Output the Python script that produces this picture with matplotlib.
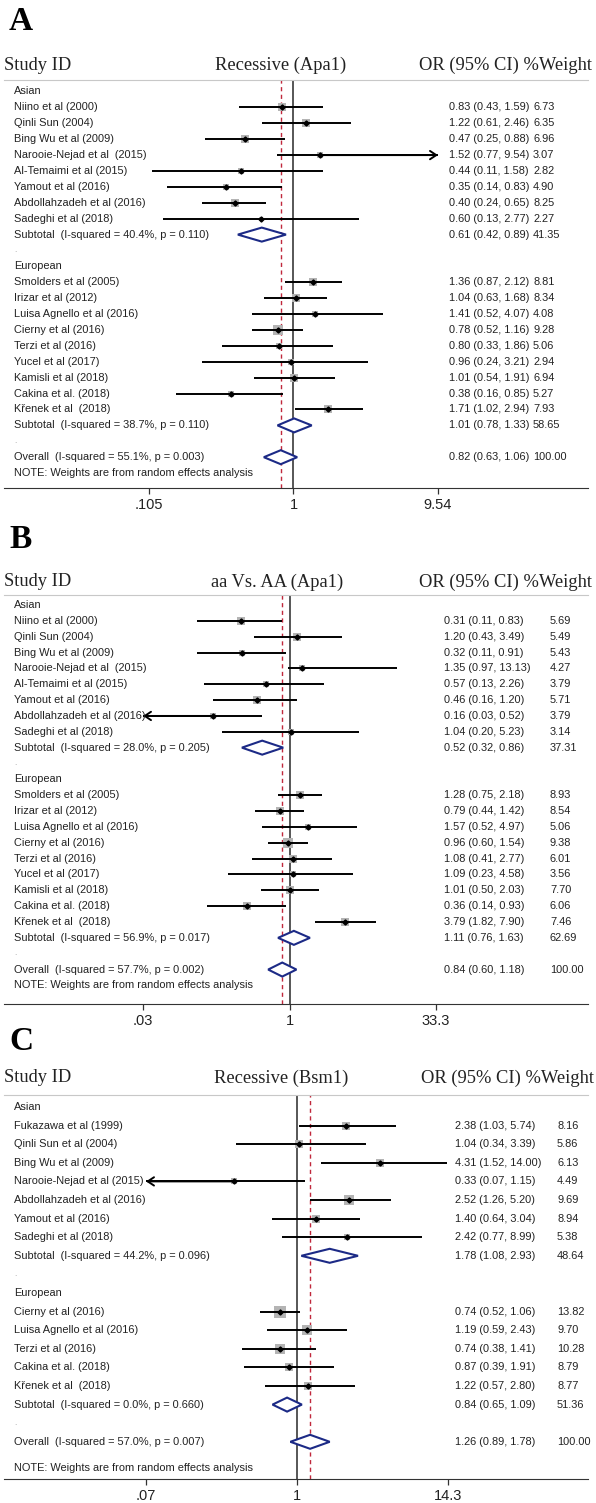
import numpy as np
import matplotlib.pyplot as plt
from matplotlib import transforms
from matplotlib.patches import Polygon
from matplotlib.ticker import NullLocator

plt.rcParams['font.family'] = ['Liberation Sans', 'DejaVu Sans']

# ---------------- Panel A : Recessive (Apa1) ----------------
A_TITLE = "Recessive (Apa1)"
A_STUDY = ["Niino et al (2000)", "Qinli Sun (2004)", "Bing Wu et al (2009)",
           "Narooie-Nejad et al  (2015)", "Al-Temaimi et al (2015)", "Yamout et al (2016)",
           "Abdollahzadeh et al (2016)", "Sadeghi et al (2018)",
           "Smolders et al (2005)", "Irizar et al (2012)", "Luisa Agnello et al (2016)",
           "Cierny et al (2016)", "Terzi et al (2016)", "Yucel et al (2017)",
           "Kamisli et al (2018)", "Cakina et al. (2018)", "Křenek et al  (2018)"]
A_REGION = ["Asian"] * 8 + ["European"] * 9
A_OR = [0.83, 1.22, 0.47, 1.52, 0.44, 0.35, 0.40, 0.60,
        1.36, 1.04, 1.41, 0.78, 0.80, 0.96, 1.01, 0.38, 1.71]
A_LO = [0.43, 0.61, 0.25, 0.77, 0.11, 0.14, 0.24, 0.13,
        0.87, 0.63, 0.52, 0.52, 0.33, 0.24, 0.54, 0.16, 1.02]
A_HI = [1.59, 2.46, 0.88, 9.54, 1.58, 0.83, 0.65, 2.77,
        2.12, 1.68, 4.07, 1.16, 1.86, 3.21, 1.91, 0.85, 2.94]
A_WT = [6.73, 6.35, 6.96, 3.07, 2.82, 4.90, 8.25, 2.27,
        8.81, 8.34, 4.08, 9.28, 5.06, 2.94, 6.94, 5.27, 7.93]
A_SUB_HET = ["I-squared = 40.4%, p = 0.110", "I-squared = 38.7%, p = 0.110"]
A_SUB_OR = [0.61, 1.01]
A_SUB_LO = [0.42, 0.78]
A_SUB_HI = [0.89, 1.33]
A_SUB_WT = [41.35, 58.65]
A_ALL_HET = "I-squared = 55.1%, p = 0.003"
A_ALL = [0.82, 0.63, 1.06]
A_TICKS = [0.105, 1, 9.54]
A_TICKLABELS = [".105", "1", "9.54"]

# ---------------- Panel B : aa Vs. AA (Apa1) ----------------
B_TITLE = "aa Vs. AA (Apa1)"
B_STUDY = A_STUDY
B_REGION = A_REGION
B_OR = [0.31, 1.20, 0.32, 1.35, 0.57, 0.46, 0.16, 1.04,
        1.28, 0.79, 1.57, 0.96, 1.08, 1.09, 1.01, 0.36, 3.79]
B_LO = [0.11, 0.43, 0.11, 0.97, 0.13, 0.16, 0.03, 0.20,
        0.75, 0.44, 0.52, 0.60, 0.41, 0.23, 0.50, 0.14, 1.82]
B_HI = [0.83, 3.49, 0.91, 13.13, 2.26, 1.20, 0.52, 5.23,
        2.18, 1.42, 4.97, 1.54, 2.77, 4.58, 2.03, 0.93, 7.90]
B_WT = [5.69, 5.49, 5.43, 4.27, 3.79, 5.71, 3.79, 3.14,
        8.93, 8.54, 5.06, 9.38, 6.01, 3.56, 7.70, 6.06, 7.46]
B_SUB_HET = ["I-squared = 28.0%, p = 0.205", "I-squared = 56.9%, p = 0.017"]
B_SUB_OR = [0.52, 1.11]
B_SUB_LO = [0.32, 0.76]
B_SUB_HI = [0.86, 1.63]
B_SUB_WT = [37.31, 62.69]
B_ALL_HET = "I-squared = 57.7%, p = 0.002"
B_ALL = [0.84, 0.60, 1.18]
B_TICKS = [0.03, 1, 33.3]
B_TICKLABELS = [".03", "1", "33.3"]

# ---------------- Panel C : Recessive (Bsm1) ----------------
C_TITLE = "Recessive (Bsm1)"
C_STUDY = ["Fukazawa et al (1999)", "Qinli Sun et al (2004)", "Bing Wu et al (2009)",
           "Narooie-Nejad et al (2015)", "Abdollahzadeh et al (2016)", "Yamout et al (2016)",
           "Sadeghi et al (2018)",
           "Cierny et al (2016)", "Luisa Agnello et al (2016)", "Terzi et al (2016)",
           "Cakina et al. (2018)", "Křenek et al  (2018)"]
C_REGION = ["Asian"] * 7 + ["European"] * 5
C_OR = [2.38, 1.04, 4.31, 0.33, 2.52, 1.40, 2.42, 0.74, 1.19, 0.74, 0.87, 1.22]
C_LO = [1.03, 0.34, 1.52, 0.07, 1.26, 0.64, 0.77, 0.52, 0.59, 0.38, 0.39, 0.57]
C_HI = [5.74, 3.39, 14.00, 1.15, 5.20, 3.04, 8.99, 1.06, 2.43, 1.41, 1.91, 2.80]
C_WT = [8.16, 5.86, 6.13, 4.49, 9.69, 8.94, 5.38, 13.82, 9.70, 10.28, 8.79, 8.77]
C_SUB_HET = ["I-squared = 44.2%, p = 0.096", "I-squared = 0.0%, p = 0.660"]
C_SUB_OR = [1.78, 0.84]
C_SUB_LO = [1.08, 0.65]
C_SUB_HI = [2.93, 1.09]
C_SUB_WT = [48.64, 51.36]
C_ALL_HET = "I-squared = 57.0%, p = 0.007"
C_ALL = [1.26, 0.89, 1.78]
C_TICKS = [0.07, 1, 14.3]
C_TICKLABELS = [".07", "1", "14.3"]

W, H = 596, 1503
L, R = 4, 588
FS = 7.9
TXT = '#222222'
NAVY = '#1c2a86'

fig = plt.figure(figsize=(W / 100, H / 100), dpi=100)


def draw_panel(lay, title, study, region, orr, lo, hi, wt,
               sub_het, sub_or, sub_lo, sub_hi, sub_wt, all_het, all_v,
               ticks, ticklabels):
    ax = fig.add_axes([L / W, 1 - lay['axis'] / H, (R - L) / W, (lay['axis'] - lay['top']) / H])
    ax.set_xscale('log')
    d = (lay['px_hi'] - lay['px_lo']) / (np.log10(ticks[-1]) - np.log10(ticks[0]))
    p1 = lay['px_lo'] - d * np.log10(ticks[0])
    ax.set_xlim(10 ** ((L - p1) / d), 10 ** ((R - p1) / d))
    ax.set_ylim((lay['axis'] - lay['row0']) / lay['step'], (lay['top'] - lay['row0']) / lay['step'])
    tr = transforms.blended_transform_factory(ax.transAxes, ax.transData)

    def fx(px):
        return (px - L) / (R - L)

    t_lo, t_hi = ticks[0], ticks[-1]
    dh = 7.0 / lay['step']

    def diamond(row, e, a, b):
        ax.add_patch(Polygon([[a, row], [e, row - dh], [b, row], [e, row + dh]], closed=True,
                             fc='white', ec=NAVY, lw=1.5, zorder=3))

    def stat_text(row, e, a, b, w):
        ax.text(fx(lay['or_x']), row, f"{e:.2f} ({a:.2f}, {b:.2f})", transform=tr,
                va='center', ha='left', fontsize=FS, color=TXT)
        ax.text(fx(lay['wt_x']), row, f"{w:.2f}", transform=tr,
                va='center', ha='left', fontsize=FS, color=TXT)

    regions = list(dict.fromkeys(region))
    row = 0
    for g, reg in enumerate(regions):
        ax.text(fx(14), row, reg, transform=tr, va='center', fontsize=FS, color=TXT)
        row += 1
        for i in [k for k, r in enumerate(region) if r == reg]:
            a, b = max(lo[i], t_lo), min(hi[i], t_hi)
            side = 3.0 * np.sqrt(wt[i]) * 0.72
            ax.scatter(orr[i], row, s=side ** 2, marker='s', color='#b4b4b4', lw=0, zorder=2)
            ax.plot([a, b], [row, row], color='black', lw=1.4, solid_capstyle='butt', zorder=3)
            if lo[i] <= t_lo:
                ax.annotate('', xy=(a, row), xytext=(orr[i], row),
                            arrowprops=dict(arrowstyle='->,head_length=0.45,head_width=0.3',
                                            lw=1.4, color='black', shrinkA=0, shrinkB=0))
            if hi[i] >= t_hi:
                ax.annotate('', xy=(b, row), xytext=(orr[i], row),
                            arrowprops=dict(arrowstyle='->,head_length=0.45,head_width=0.3',
                                            lw=1.4, color='black', shrinkA=0, shrinkB=0))
            ax.plot(orr[i], row, marker='D', ms=2.6, color='black', zorder=4)
            ax.text(fx(14), row, study[i], transform=tr, va='center', fontsize=FS, color=TXT)
            stat_text(row, orr[i], lo[i], hi[i], wt[i])
            row += 1
        diamond(row, sub_or[g], sub_lo[g], sub_hi[g])
        ax.text(fx(14), row, f"Subtotal  ({sub_het[g]})", transform=tr, va='center',
                fontsize=FS, color=TXT)
        stat_text(row, sub_or[g], sub_lo[g], sub_hi[g], sub_wt[g])
        row += 1
        ax.text(fx(14), row, ".", transform=tr, va='center', fontsize=6, color='#999999')
        row += 1
    diamond(row, all_v[0], all_v[1], all_v[2])
    ax.text(fx(14), row, f"Overall  ({all_het})", transform=tr, va='center', fontsize=FS, color=TXT)
    stat_text(row, all_v[0], all_v[1], all_v[2], 100.0)
    row += 1 + lay['note_shift']
    ax.text(fx(14), row, "NOTE: Weights are from random effects analysis", transform=tr,
            va='center', fontsize=FS, color=TXT)

    ax.axvline(1, color='#3a3a3a', lw=1.2, zorder=1)
    ax.axvline(all_v[0], color='#c0283c', lw=1.0, ls=(0, (3, 2.5)), zorder=1)

    for s in ['left', 'right']:
        ax.spines[s].set_visible(False)
    ax.spines['top'].set_color('#c8c8c8')
    ax.spines['bottom'].set_color('#333333')
    ax.set_yticks([])
    ax.set_xticks(ticks, labels=ticklabels)
    ax.xaxis.set_minor_locator(NullLocator())
    ax.tick_params(axis='x', direction='out', length=4, width=0.9, labelsize=10.5, pad=3,
                   color='#333333', labelcolor=TXT)

    # panel letter and column headers
    fig.text(9 / W, 1 - lay['letter_y'] / H, lay['letter'], family='Liberation Serif',
             weight='bold', fontsize=24, va='center', color='black')
    hy = 1 - lay['head_y'] / H
    fig.text(4 / W, hy, "Study ID", family='Liberation Serif', fontsize=13.3, va='center', color=TXT)
    fig.text(lay['title_x'] / W, hy, title, family='Liberation Serif', fontsize=13.3,
             va='center', ha='center', color=TXT)
    fig.text(lay['orh_x'] / W, hy, "OR (95% CI) %Weight", family='Liberation Serif',
             fontsize=13.3, va='center', ha='left', color=TXT)


A_LAYOUT = dict(letter="A", letter_y=22, head_y=65, top=80, row0=91.5, step=15.9, axis=488,
                px_lo=149, px_hi=438, or_x=449, wt_x=533, title_x=281, orh_x=419, note_shift=0)
B_LAYOUT = dict(letter="B", letter_y=540, head_y=582, top=595, row0=605, step=15.85, axis=1004,
                px_lo=143, px_hi=436, or_x=444, wt_x=550, title_x=277, orh_x=419, note_shift=0)
C_LAYOUT = dict(letter="C", letter_y=1042, head_y=1078, top=1095, row0=1107, step=18.6, axis=1479,
                px_lo=146, px_hi=448, or_x=455, wt_x=557, title_x=281, orh_x=421, note_shift=0.4)

draw_panel(A_LAYOUT, A_TITLE, A_STUDY, A_REGION, A_OR, A_LO, A_HI, A_WT,
           A_SUB_HET, A_SUB_OR, A_SUB_LO, A_SUB_HI, A_SUB_WT, A_ALL_HET, A_ALL,
           A_TICKS, A_TICKLABELS)
draw_panel(B_LAYOUT, B_TITLE, B_STUDY, B_REGION, B_OR, B_LO, B_HI, B_WT,
           B_SUB_HET, B_SUB_OR, B_SUB_LO, B_SUB_HI, B_SUB_WT, B_ALL_HET, B_ALL,
           B_TICKS, B_TICKLABELS)
draw_panel(C_LAYOUT, C_TITLE, C_STUDY, C_REGION, C_OR, C_LO, C_HI, C_WT,
           C_SUB_HET, C_SUB_OR, C_SUB_LO, C_SUB_HI, C_SUB_WT, C_ALL_HET, C_ALL,
           C_TICKS, C_TICKLABELS)

fig.savefig("out.png", dpi=100)
